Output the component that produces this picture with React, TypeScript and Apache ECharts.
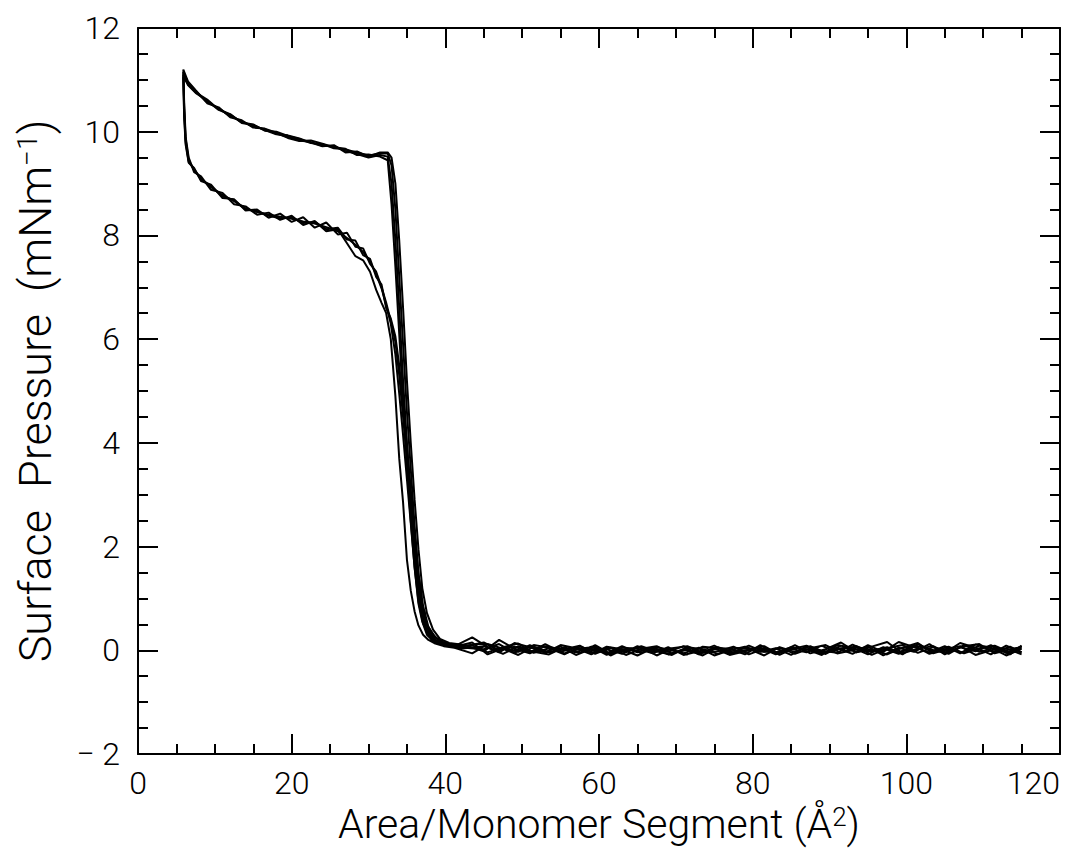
import React, { useEffect, useRef } from "react";
import * as echarts from "echarts";

// ---- Compression branch x grid (descending area) ----
const compXZero = [115, 113, 111, 109, 107, 105, 103, 101, 99, 97, 95, 93, 91, 89, 87, 85, 83, 81, 79, 77, 75, 73, 71, 69, 67, 65, 63, 61, 59, 57, 55, 53, 51, 49, 47, 45];
const compXSteep = [42.5, 40.5, 39.3, 38.4, 37.6, 37.0, 36.5, 36.0, 35.5, 35.0, 34.5, 34.0, 33.5, 33.0, 32.5];
const compXPlateau = [31.5, 30, 28.5, 27, 25.5, 24, 22.5, 21, 19.5, 18, 16.5, 15, 13.5, 12, 10.5, 9, 7.5, 6.5, 5.9];

// ---- Expansion branch x grid (ascending area) ----
const expXFront = [5.9, 6.0, 6.2, 6.6, 7.3, 8.2, 9.5, 11, 12.5, 14, 15.5, 17, 18.5, 20, 21.5, 23, 24.5, 26, 27.2, 28.3, 29.3, 30.2, 31.0, 31.7, 32.3, 32.9, 33.5, 34.0, 34.5, 35.0, 35.5, 36.0, 36.5, 37.1, 37.8, 38.7, 39.8, 41.2];
const expXZero = [43.5, 45.5, 47.5, 49.5, 51.5, 53.5, 55.5, 57.5, 59.5, 61.5, 63.5, 65.5, 67.5, 69.5, 71.5, 73.5, 75.5, 77.5, 79.5, 81.5, 83.5, 85.5, 87.5, 89.5, 91.5, 93.5, 95.5, 97.5, 99.5, 101.5, 103.5, 105.5, 107.5, 109.5, 111.5, 113.5, 115];

// ---- Surface pressure, compression (zero region, steep rise, plateau) ----
const cycle1Comp = [
  0.08, -0.05, 0.1, -0.02, 0.06, -0.08, 0.12, -0.03, 0.05, -0.1, 0.07, 0.0, -0.06, 0.09, -0.04, 0.03, -0.08, 0.05, -0.02, -0.09, 0.04, -0.05, 0.02, -0.08, 0.06, -0.04, 0.08, -0.06, 0.03, -0.09, 0.07, -0.03, 0.1, -0.05, 0.12, 0.02,
  0.05, 0.1, 0.14, 0.22, 0.38, 0.68, 1.1, 1.9, 2.9, 4.0, 5.2, 6.6, 7.9, 9.0, 9.52,
  9.55, 9.5, 9.57, 9.63, 9.72, 9.73, 9.8, 9.83, 9.9, 9.96, 10.05, 10.1, 10.2, 10.3, 10.45, 10.57, 10.78, 10.95, 11.15,
];
const cycle2Comp = [
  -0.04, 0.09, -0.08, 0.05, 0.14, -0.05, 0.02, 0.1, -0.07, 0.04, -0.02, 0.11, -0.05, -0.01, 0.08, -0.09, 0.04, -0.03, 0.07, 0.0, -0.1, 0.05, -0.06, 0.03, -0.02, 0.08, -0.07, 0.02, -0.05, 0.06, -0.03, 0.12, -0.04, 0.07, 0.0, 0.15,
  0.08, 0.12, 0.18, 0.3, 0.5, 0.9, 1.5, 2.4, 3.5, 4.6, 5.9, 7.2, 8.5, 9.35, 9.58,
  9.58, 9.54, 9.6, 9.66, 9.68, 9.76, 9.78, 9.86, 9.92, 10.0, 10.02, 10.14, 10.18, 10.33, 10.42, 10.6, 10.75, 10.9, 11.1,
];
const cycle3Comp = [
  0.03, -0.1, 0.05, 0.11, -0.06, 0.08, -0.04, 0.06, 0.16, -0.03, 0.1, -0.07, 0.04, -0.05, 0.09, 0.02, -0.06, 0.1, -0.08, 0.03, 0.05, -0.08, 0.08, -0.03, 0.04, -0.1, 0.02, 0.07, -0.08, 0.04, 0.1, -0.05, 0.06, 0.14, -0.04, 0.08,
  0.04, 0.08, 0.12, 0.18, 0.3, 0.55, 0.9, 1.6, 2.5, 3.6, 4.8, 6.1, 7.4, 8.6, 9.45,
  9.52, 9.56, 9.55, 9.67, 9.7, 9.77, 9.83, 9.82, 9.88, 9.98, 10.06, 10.08, 10.22, 10.28, 10.47, 10.55, 10.8, 10.97, 11.2,
];
const cycle4Comp = [
  -0.08, 0.04, 0.0, -0.09, 0.08, 0.02, -0.07, 0.09, -0.04, 0.06, -0.08, 0.05, 0.1, -0.09, 0.02, 0.06, -0.04, -0.02, 0.05, -0.07, 0.09, -0.02, -0.09, 0.06, -0.06, 0.03, 0.05, -0.09, 0.07, -0.04, 0.02, 0.08, -0.06, 0.03, 0.2, -0.02,
  0.1, 0.14, 0.22, 0.4, 0.72, 1.2, 1.95, 2.9, 4.0, 5.2, 6.6, 7.9, 9.0, 9.5, 9.6,
  9.6, 9.52, 9.62, 9.6, 9.74, 9.72, 9.79, 9.87, 9.93, 9.95, 10.03, 10.13, 10.17, 10.34, 10.43, 10.62, 10.76, 10.92, 11.05,
];

// ---- Surface pressure, expansion (plateau, steep fall, zero region) ----
const cycle1Exp = [
  11.15, 10.5, 9.85, 9.45, 9.26, 9.1, 8.93, 8.78, 8.66, 8.52, 8.45, 8.4, 8.36, 8.32, 8.27, 8.23, 8.16, 8.08, 7.95, 7.82, 7.68, 7.5, 7.25, 6.98, 6.65, 6.3, 5.7, 4.95, 4.15, 3.3, 2.45, 1.6, 0.95, 0.52, 0.3, 0.17, 0.1, 0.06,
  0.1, -0.04, 0.06, 0.13, -0.05, 0.04, -0.08, 0.07, -0.02, 0.05, -0.09, 0.03, 0.08, -0.06, 0.01, -0.1, 0.06, -0.04, 0.09, -0.03, 0.05, -0.07, 0.04, 0.1, -0.05, 0.08, -0.03, 0.06, -0.08, 0.12, -0.02, 0.07, -0.06, 0.04, 0.09, -0.04, 0.05,
];
const cycle2Exp = [
  11.1, 10.3, 9.75, 9.4, 9.3, 9.05, 8.98, 8.72, 8.7, 8.48, 8.5, 8.34, 8.42, 8.26, 8.35, 8.15, 8.25, 8.02, 8.05, 7.78, 7.75, 7.45, 7.3, 7.0, 6.7, 6.35, 5.95, 5.3, 4.5, 3.7, 2.85, 2.0, 1.25, 0.7, 0.38, 0.2, 0.12, 0.08,
  0.25, 0.06, -0.07, 0.08, -0.03, -0.08, 0.06, -0.05, 0.1, -0.07, 0.02, 0.06, -0.1, 0.04, 0.08, -0.05, -0.02, 0.07, -0.08, 0.03, -0.05, 0.1, -0.06, 0.02, 0.15, -0.04, 0.07, 0.16, -0.06, 0.03, 0.08, -0.07, 0.1, -0.03, 0.05, -0.08, 0.09,
];
const cycle3Exp = [
  11.2, 10.6, 9.9, 9.5, 9.22, 9.14, 8.88, 8.82, 8.6, 8.56, 8.4, 8.44, 8.3, 8.38, 8.2, 8.28, 8.08, 8.12, 7.85, 7.6, 7.52, 7.3, 6.95, 6.7, 6.5, 6.0, 4.9, 3.7, 2.85, 1.75, 1.15, 0.75, 0.48, 0.3, 0.2, 0.13, 0.08, 0.05,
  -0.06, 0.12, 0.03, -0.09, 0.07, -0.04, 0.02, 0.09, -0.07, 0.05, -0.04, 0.08, -0.02, -0.09, 0.06, 0.02, -0.07, 0.05, 0.03, -0.1, 0.06, -0.03, 0.08, -0.05, 0.04, 0.07, -0.09, 0.04, 0.1, -0.05, 0.06, -0.02, 0.08, 0.12, -0.06, 0.02, 0.06,
];
const cycle4Exp = [
  11.05, 10.4, 9.8, 9.42, 9.28, 9.08, 8.95, 8.75, 8.68, 8.5, 8.47, 8.38, 8.33, 8.35, 8.24, 8.26, 8.12, 8.15, 7.92, 7.9, 7.62, 7.55, 7.2, 7.05, 6.6, 6.4, 6.05, 5.5, 4.75, 3.95, 3.1, 2.25, 1.45, 0.85, 0.45, 0.25, 0.13, 0.07,
  0.15, -0.08, 0.04, -0.03, 0.1, 0.05, -0.06, 0.03, 0.07, -0.1, 0.04, -0.05, 0.06, 0.0, -0.08, 0.07, 0.04, -0.06, 0.02, 0.08, -0.09, 0.05, 0.01, -0.07, 0.09, -0.04, 0.02, -0.08, 0.05, 0.14, -0.06, 0.03, -0.05, 0.09, -0.03, 0.07, -0.04,
];

const compCycles = [cycle1Comp, cycle2Comp, cycle3Comp, cycle4Comp];
const expCycles = [cycle1Exp, cycle2Exp, cycle3Exp, cycle4Exp];

const xTitle = "Area/Monomer Segment (Å{sup|2})";
const yTitle = "Surface  Pressure  (mNm{sup|−1})";

const FONT = "Roboto, 'DejaVu Sans', sans-serif";

export default function App() {
  const ref = useRef<HTMLDivElement>(null);

  useEffect(() => {
    if (!ref.current) return;
    const chart = echarts.init(ref.current, null, { renderer: "svg" });
    const compX = [...compXZero, ...compXSteep, ...compXPlateau];
    const expX = [...expXFront, ...expXZero];

    const series = compCycles.map((comp, c) => {
      const exp = expCycles[c];
      const data = compX
        .map((x, i) => [x, comp[i]])
        .concat(expX.map((x, i) => [x, exp[i]]));
      return {
        type: "line",
        data,
        showSymbol: false,
        symbol: "none",
        lineStyle: { color: "#000", width: 2 },
        xAxisIndex: 0,
        yAxisIndex: 0,
        z: 3,
      };
    });

    const line = { color: "#000", width: 2 };
    const axisBase = {
      type: "value",
      axisLine: { show: true, onZero: false, lineStyle: line },
      axisTick: { show: true, inside: true, length: 20, lineStyle: line },
      minorTick: { show: true, splitNumber: 4, length: 10, lineStyle: line },
      splitLine: { show: false },
      minorSplitLine: { show: false },
    };
    const labelStyle = {
      color: "#000",
      fontSize: 32,
      fontFamily: FONT,
      fontWeight: 300,
    };
    const mkName = (size: number, supSize: number) => ({
      color: "#000",
      fontSize: size,
      fontFamily: FONT,
      fontWeight: 300,
      rich: {
        sup: {
          color: "#000",
          fontSize: supSize,
          fontFamily: FONT,
          fontWeight: 300,
          verticalAlign: "top",
        },
      },
    });

    chart.setOption({
      animation: false,
      backgroundColor: "#fff",
      grid: {
        left: 138,
        right: 10,
        top: 28,
        bottom: 95,
        containLabel: false,
        outerBoundsMode: "none",
      },
      xAxis: [
        {
          ...axisBase,
          position: "bottom",
          min: 0,
          max: 120,
          interval: 20,
          axisLabel: {
            ...labelStyle,
            margin: 13,
            showMinLabel: true,
            showMaxLabel: true,
            alignMaxLabel: "right",
          },
          name: xTitle,
          nameLocation: "middle",
          nameGap: 45,
          nameTextStyle: mkName(41, 26),
        },
        {
          ...axisBase,
          position: "top",
          min: 0,
          max: 120,
          interval: 20,
          axisLabel: { show: false },
        },
      ],
      yAxis: [
        {
          ...axisBase,
          position: "left",
          min: -2,
          max: 12,
          interval: 2,
          axisLabel: {
            ...labelStyle,
            margin: 18,
            showMinLabel: true,
            showMaxLabel: true,
            formatter: (v: number) => String(v).replace("-", "− "),
          },
          name: yTitle,
          nameLocation: "middle",
          nameGap: 80,
          nameTextStyle: mkName(45, 28),
        },
        {
          ...axisBase,
          position: "right",
          min: -2,
          max: 12,
          interval: 2,
          axisLabel: { show: false },
        },
      ],
      series,
    });

    return () => chart.dispose();
  }, []);

  return (
    <div
      ref={ref}
      style={{ position: "fixed", left: 0, top: 0, width: 1070, height: 849, background: "#fff" }}
    />
  );
}
